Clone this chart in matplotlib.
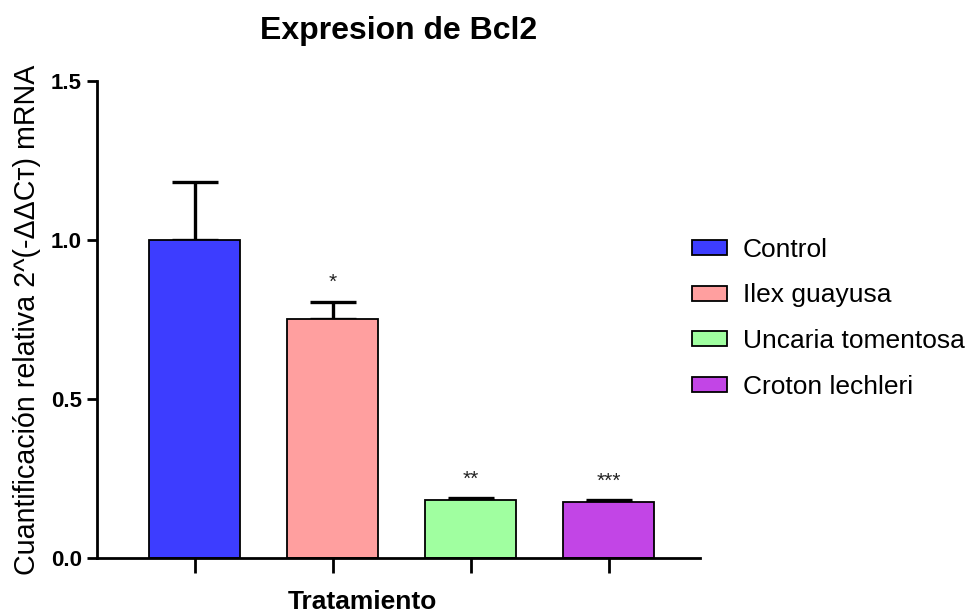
import matplotlib.pyplot as plt
import numpy as np
from matplotlib.patches import Patch

plt.rcParams["font.family"] = ["Liberation Sans", "DejaVu Sans"]

groups = ["Control", "Ilex guayusa", "Uncaria tomentosa", "Croton lechleri"]
means = [1.0, 0.75, 0.182, 0.176]
sem = [0.18, 0.055, 0.006, 0.005]
stars = ["", "*", "**", "***"]
colors = ["#3D3DFF", "#FF9F9F", "#A0FFA0", "#C245E6"]


def main() -> None:
    fig = plt.figure(figsize=(9.72, 6.12), dpi=100)
    ax = fig.add_axes([0.0998, 0.0882, 0.620, 0.780])

    x = np.arange(len(groups))
    ax.bar(x, means, width=0.66, color=colors, edgecolor="black",
           linewidth=1.3, zorder=2)
    ax.errorbar(x, means, yerr=[np.zeros(len(sem)), sem], fmt="none",
                ecolor="black", elinewidth=2.4, capsize=16.5, capthick=2.4,
                zorder=1)

    for xi, m, e, s in zip(x, means, sem, stars):
        if s:
            ax.text(xi, m + e + 0.03, s, ha="center", va="bottom",
                    fontsize=15, color="#222222")

    ax.set_xlim(-0.71, 3.66)
    ax.set_ylim(0, 1.5)
    ax.set_yticks([0.0, 0.5, 1.0, 1.5])
    ax.set_yticklabels(["0.0", "0.5", "1.0", "1.5"], fontsize=16,
                       fontweight="bold")
    ax.set_xticks(x)
    ax.set_xticklabels([])
    ax.tick_params(axis="y", length=7, width=2, pad=4)
    ax.tick_params(axis="x", length=11, width=2)
    for side in ("top", "right"):
        ax.spines[side].set_visible(False)
    for side in ("left", "bottom"):
        ax.spines[side].set_linewidth(2)

    ax.set_ylabel("Cuantificación relativa 2^(-ΔΔCᴛ) mRNA", fontsize=20.6)
    ax.yaxis.set_label_coords(-0.093, 0.5)
    ax.set_xlabel("Tratamiento", fontsize=19, fontweight="bold")
    ax.xaxis.set_label_coords(0.44, -0.066)
    ax.set_title("Expresion de Bcl2", fontsize=23, fontweight="bold", pad=30)

    handles = [Patch(facecolor=c, edgecolor="black", linewidth=1.3)
               for c in colors]
    fig.legend(handles, groups, loc="center left",
               bbox_to_anchor=(0.688, 0.480), frameon=False, fontsize=19,
               handlelength=1.3, handleheight=0.5, labelspacing=0.82,
               handletextpad=0.6)

    fig.savefig("out.png", dpi=100)


if __name__ == "__main__":
    main()
